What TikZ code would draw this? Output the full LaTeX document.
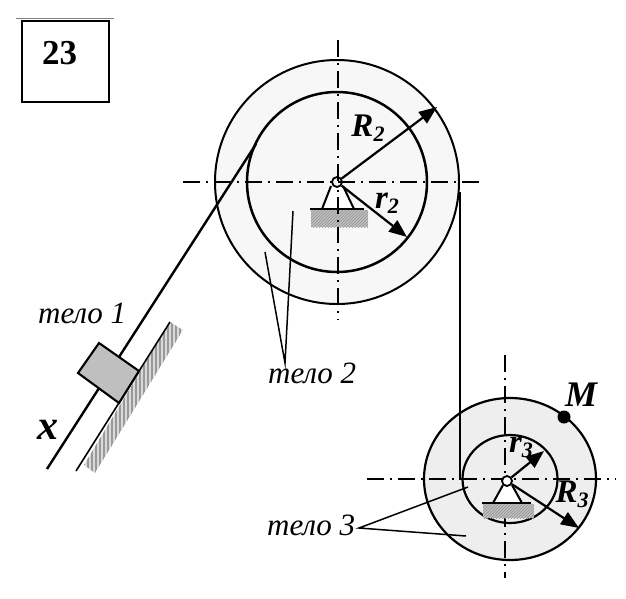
\documentclass[tikz,border=0pt]{standalone}
\usepackage{fontspec}
\setmainfont{Liberation Serif}
\usetikzlibrary{arrows.meta,patterns}
\definecolor{wheelA}{HTML}{F7F7F7}
\definecolor{wheelB}{HTML}{EEEEEE}
\tikzset{
  x=1pt,y=-1pt,
  axisline/.style={line width=1.5pt,dash pattern=on 17pt off 6pt on 2pt off 6pt},
  rim/.style={draw=black,line width=2pt},
  rope/.style={line width=2.4pt,black},
  radius arrow/.style={line width=2.2pt,-{Triangle[length=18pt,width=14pt]}},
  leader/.style={line width=1.5pt},
  lab/.style={inner sep=0pt,font=\fontsize{31}{31}\selectfont\itshape},
  blab/.style={inner sep=0pt,font=\fontsize{33}{33}\selectfont\bfseries\itshape},
}
\newcommand{\subs}[1]{\raisebox{-5pt}{\fontsize{22}{22}\selectfont #1}}
\begin{document}
\begin{tikzpicture}
\useasboundingbox (0,0) rectangle (626,598);
% number box
\draw[gray,line width=0.9pt] (16,18) -- (114,18);
\node[draw=black,line width=2pt,minimum width=87pt,minimum height=81pt,inner sep=0pt] (numbox) at (65.5,61.5) {};
\node[inner sep=0pt,font=\fontsize{35}{35}\selectfont\bfseries] (num) at (59.5,53) {23};
% wheel 2
\coordinate (c2) at (337,182);
\fill[wheelA] (c2) circle[radius=122];
\draw[rim] (c2) circle[radius=122];
\draw[rim,line width=2.5pt] (c2) circle[radius=90];
\draw[axisline] (183,182) -- (483,182);
\draw[axisline] (338,40) -- (338,320);
\fill[pattern=north east lines,pattern color=gray!85,preaction={fill=gray!50}] (311,210) rectangle (368,227);
\fill[white] (331,186) -- (322,208) -- (354,208) -- (343,186) -- cycle;
\draw[line width=2pt] (331,186) -- (322,209);
\draw[line width=2pt] (343,186) -- (354,209);
\draw[line width=2pt] (310,209) -- (364,209);
\draw[axisline,dash pattern=on 2pt off 5pt on 17pt off 6pt] (338,190) -- (338,240);
\node[circle,draw=black,line width=1.8pt,inner sep=0pt,minimum size=10pt] (p2) at (c2) {};
\coordinate (R2end) at (437,107);
\coordinate (r2end) at (407,237);
\draw[radius arrow] (p2) -- (R2end);
\draw[radius arrow] (p2) -- (r2end);
\node[blab] (R2) at (368,128) {R\subs{2}};
\node[blab] (r2) at (387,203) {r\subs{2}};
% wheel 3
\coordinate (c3) at (510,479);
\fill[wheelB] (c3) ellipse[x radius=86,y radius=81];
\draw[rim,line width=2.2pt] (c3) ellipse[x radius=86,y radius=81];
\draw[rim,line width=2.2pt] (c3) ellipse[x radius=47.5,y radius=44];
\draw[axisline] (367,479) -- (616,479);
\draw[axisline] (505,355) -- (505,578);
\fill[pattern=north east lines,pattern color=gray!85,preaction={fill=gray!50}] (483,504) rectangle (534,518);
\fill[white] (503,485) -- (493,503) -- (522,503) -- (512,485) -- cycle;
\draw[line width=2pt] (503,485) -- (493,503);
\draw[line width=2pt] (512,485) -- (522,503);
\draw[line width=2pt] (482,503) -- (531,503);
\node[circle,draw=black,fill=white,line width=1.8pt,inner sep=0pt,minimum size=10pt] (p3) at (507,481) {};
\coordinate (R3end) at (579,528);
\coordinate (r3end) at (544,451);
\draw[radius arrow] (p3) -- (r3end);
\draw[radius arrow] (p3) -- (R3end);
\node[blab] (r3) at (521,447) {r\subs{3}};
\node[blab] (R3) at (572,494) {R\subs{3}};
\node[circle,fill=black,inner sep=0pt,minimum size=13pt] (pointM) at (564,417) {};
\node[blab,font=\fontsize{36}{36}\selectfont\bfseries\itshape] (M) at (581,395) {M};
% ropes
\coordinate (rope1top) at (256,144);
\coordinate (rope1end) at (47,469);
\draw[rope] (rope1top) -- (rope1end);
\coordinate (rope2top) at (460,192);
\coordinate (rope2end) at (460,480);
\draw[rope,line width=2.6pt] (rope2top) -- (rope2end);
% incline
\fill[gray!30] (170,322) -- (183,330) -- (95,473) -- (84,465) -- cycle;
\begin{scope}
\clip (170,322) -- (183,330) -- (95,473) -- (84,465) -- cycle;
\foreach \sx in {84,88,...,184} \draw[gray!80,line width=1.6pt] (\sx,320) -- (\sx,475);
\end{scope}
\coordinate (wallA) at (170,322);
\coordinate (wallB) at (76,471);
\draw[line width=1.6pt] (wallA) -- (wallB);
% block
\draw[fill=gray!50,line width=2.1pt] (99,343) -- (139,371) -- (119,403) -- (78,373) -- cycle;
% labels
\node[lab,anchor=base west] (t1) at (38,323) {тело 1};
\node[blab,font=\fontsize{42}{42}\selectfont\bfseries\itshape] (x) at (48,430) {x};
\node[lab,anchor=base west] (t2) at (268,383) {тело 2};
\node[lab,anchor=base west] (t3) at (267,535) {тело 3};
% leaders
\coordinate (l2o) at (285,363);
\coordinate (l2a) at (293,211);
\coordinate (l2b) at (265,252);
\draw[leader] (l2a) -- (l2o) -- (l2b);
\coordinate (l3o) at (359,528);
\coordinate (l3a) at (468,487);
\coordinate (l3b) at (466,536);
\draw[leader] (l3a) -- (l3o) -- (l3b);
\end{tikzpicture}
\end{document}
